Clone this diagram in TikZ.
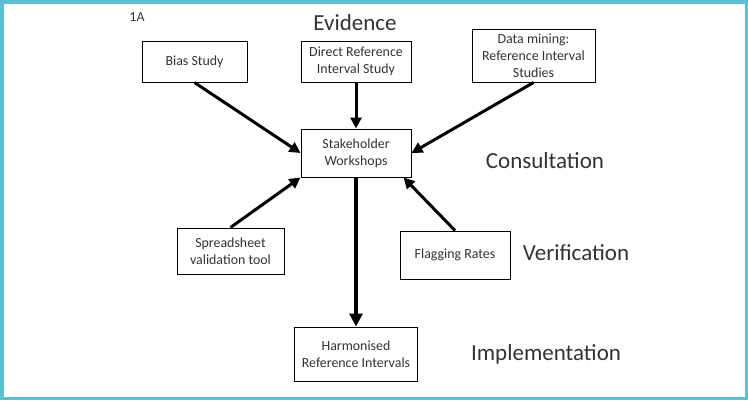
\documentclass[tikz,border=0pt]{standalone}
\usepackage{fontspec}
\setmainfont{Carlito}
\usetikzlibrary{arrows.meta}
\definecolor{framecol}{RGB}{91,192,210}
\definecolor{ink}{RGB}{50,50,55}

\begin{document}
\begin{tikzpicture}[x=1pt, y=-1pt,
    box/.style={draw, rectangle, line width=1pt, text=ink, align=center, inner sep=0pt, font=\fontsize{13.9}{17}\selectfont},
    stage/.style={text=ink, font=\fontsize{23}{27}\selectfont},
    flow/.style={-{Triangle[length=11pt, width=11pt]}, line width=3pt},
    mainflow/.style={-{Triangle[length=13pt, width=13pt]}, line width=4.5pt}]
    \useasboundingbox (0,0) rectangle (748,400);
    \draw[framecol, line width=3.5pt] (1.75,1.75) rectangle (746.25,398.25);

    \node[text=ink, font=\fontsize{13.9}{17}\selectfont] (tag) at (137,17) {1A};
    \node[stage] (evidence) at (355,23) {Evidence};
    \node[stage] (consult) at (545,161) {Consultation};
    \node[stage] (verify) at (576,253) {Verification};
    \node[stage] (implement) at (546,354) {Implementation};

    \node[box, minimum width=105pt, minimum height=41pt] (bias) at (194.5,61.5) {Bias Study};
    \node[box, minimum width=110pt, minimum height=41pt] (direct) at (356,61.5) {Direct Reference\\Interval Study};
    \node[box, minimum width=123pt, minimum height=53pt] (mining) at (533.5,55.5) {Data mining:\\Reference Interval\\Studies};

    \node[box, minimum width=110pt, minimum height=48pt] (stake) at (356,153) {Stakeholder\\Workshops};

    \node[box, minimum width=107pt, minimum height=46pt] (sheet) at (230.5,251) {Spreadsheet\\validation tool};
    \node[box, minimum width=110pt, minimum height=48pt] (flag) at (455,255) {Flagging Rates};

    \node[box, minimum width=123pt, minimum height=54pt] (harmon) at (356,354) {Harmonised\\Reference Intervals};

    \draw[flow] (bias.south) -- (stake.west);
    \draw[flow] (direct) -- (stake);
    \draw[flow] (mining.south) -- (stake.east);
    \draw[flow] (sheet.north) -- (stake.south west);
    \draw[flow] (flag.north) -- ([xshift=-8pt]stake.south east);
    \draw[mainflow] (stake) -- (harmon);
\end{tikzpicture}
\end{document}
